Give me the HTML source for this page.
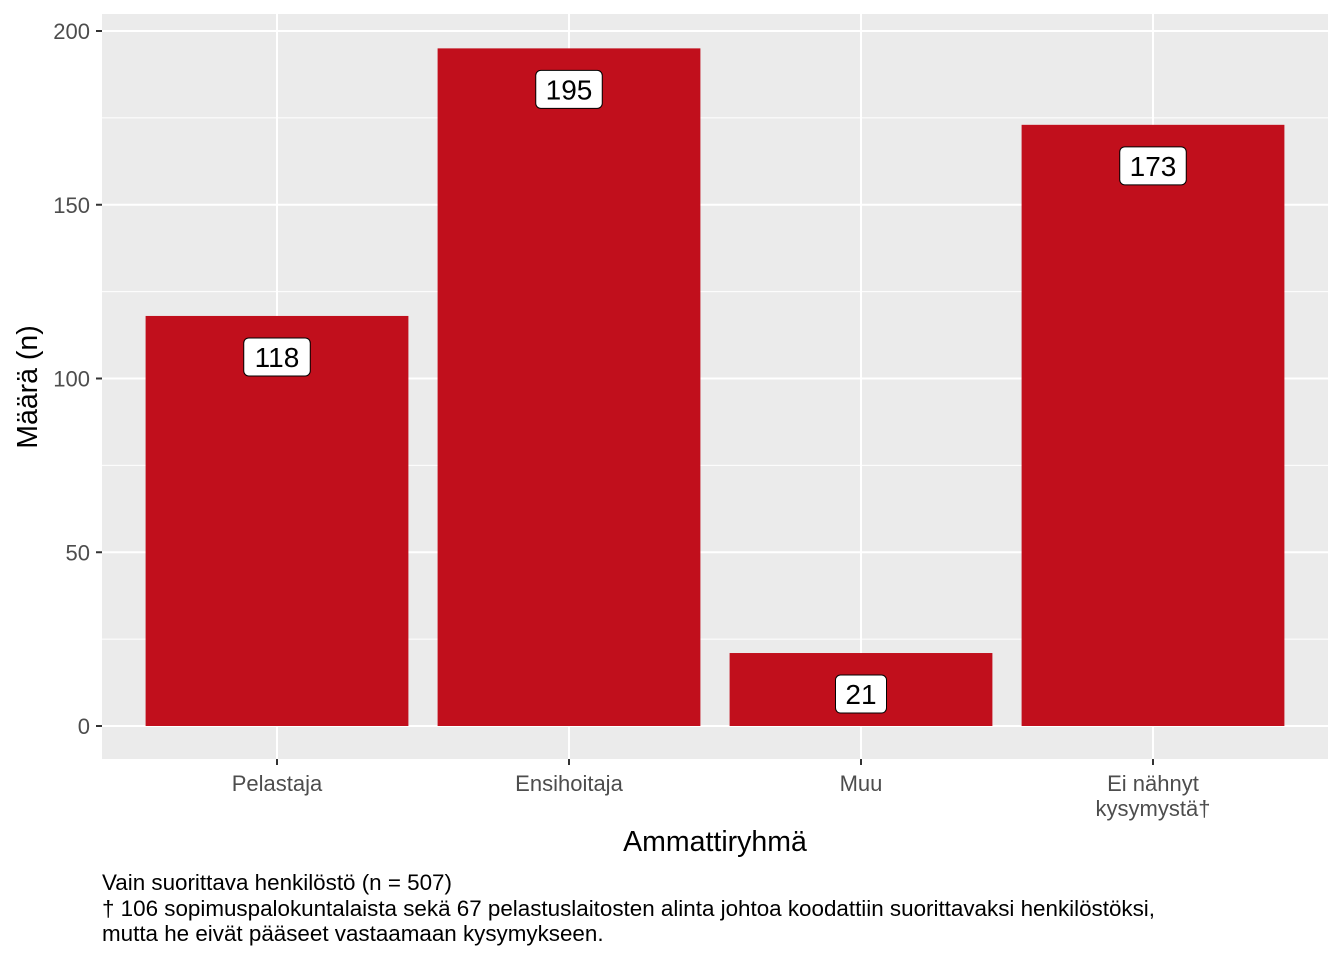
<!DOCTYPE html>
<html><head><meta charset="utf-8"><style>
body{margin:0;background:#fff;}
svg{display:block;font-family:"Liberation Sans",Arial,sans-serif;}
</style></head><body>
<svg id="chart" width="1344" height="960">
<rect x="102" y="14" width="1226" height="745" fill="#ebebeb"/>
<g id="grid"></g><g id="bars"></g><g id="labels"></g><g id="axes"></g>
<text x="37" y="387" transform="rotate(-90 37 387)" text-anchor="middle" font-size="28.5" fill="#000">Määrä (n)</text>
<text x="715" y="851" text-anchor="middle" font-size="28.5" fill="#000">Ammattiryhmä</text>
<g font-size="22.4" fill="#000">
<text x="102" y="890">Vain suorittava henkilöstö (n = 507)</text>
<text x="102" y="916">† 106 sopimuspalokuntalaista sekä 67 pelastuslaitosten alinta johtoa koodattiin suorittavaksi henkilöstöksi,</text>
<text x="102" y="941">mutta he eivät pääseet vastaamaan kysymykseen.</text>
</g>
</svg>
<script>
const categories=["Pelastaja","Ensihoitaja","Muu","Ei nähnyt\nkysymystä†"];
const values=[118,195,21,173];
const yTicks=[0,50,100,150,200];
const yMinor=[25,75,125,175];
const NS="http://www.w3.org/2000/svg";
const y=v=>726-v*3.475;
const band=292, x0=102+(1226-band*4)/2;
const xc=i=>x0+band*i+band/2;
const bw=band*0.9;
function mk(tag,attrs,parent,text){const e=document.createElementNS(NS,tag);for(const k in attrs)e.setAttribute(k,attrs[k]);if(text!==undefined)e.textContent=text;document.getElementById(parent).appendChild(e);return e;}
yMinor.forEach(v=>{const l=mk('line',{x1:102,x2:1328,y1:y(v),y2:y(v),stroke:'#fff','stroke-width':1},'grid');

});
yTicks.forEach(v=>{const l=mk('line',{x1:102,x2:1328,y1:y(v),y2:y(v),stroke:'#fff','stroke-width':2},'grid');


const t=mk('line',{x1:96,x2:102,y1:y(v),y2:y(v),stroke:'#333','stroke-width':2},'axes');


const tx=mk('text',{x:90,y:y(v)+8,'text-anchor':'end','font-size':22,fill:'#4d4d4d'},'axes',String(v));

});
categories.forEach((c,i)=>{const cx=xc(i);
const g=mk('line',{x1:cx,x2:cx,y1:14,y2:759,stroke:'#fff','stroke-width':2},'grid');


const b=mk('rect',{x:cx-bw/2,y:y(values[i]),width:bw,height:y(0)-y(values[i]),fill:'#c10f1c'},'bars');


const s=String(values[i]);const w=s.length*15.5+20;const cy=y(values[i])+41;
const r=mk('rect',{x:cx-w/2,y:cy-19,width:w,height:38,rx:5,fill:'#fff',stroke:'#000','stroke-width':1},'labels');


const lt=mk('text',{x:cx,y:cy+10,'text-anchor':'middle','font-size':28,fill:'#000'},'labels',s);


const tk=mk('line',{x1:cx,x2:cx,y1:759,y2:765,stroke:'#333','stroke-width':2},'axes');


c.split('\n').forEach((ln,j)=>{const xt=mk('text',{x:cx,y:791+j*25,'text-anchor':'middle','font-size':22,fill:'#4d4d4d'},'axes',ln);

});});
</script>
</body></html>
